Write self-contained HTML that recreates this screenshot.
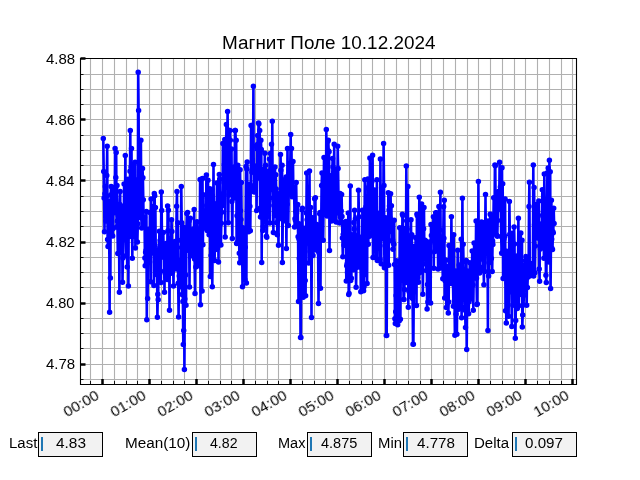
<!DOCTYPE html>
<html lang="ru"><head><meta charset="utf-8"><title>Магнит Поле 10.12.2024</title>
<style>
html,body{margin:0;padding:0;background:#fff;}
body{width:640px;height:480px;position:relative;overflow:hidden;font-family:"Liberation Sans",sans-serif;color:#000;}
.plot{position:absolute;left:0;top:0;}
.t{position:absolute;white-space:nowrap;line-height:1;transform-origin:0 0;will-change:transform;}
.yl{text-align:right;}
.box{position:absolute;top:432px;width:63px;height:23px;background:#f2f2f2;border:1.1px solid #000;box-sizing:content-box;}
.cur{position:absolute;top:437.2px;width:2.1px;height:13.4px;background:#1f77b4;}
</style></head><body>
<svg class="plot" width="640" height="480" viewBox="0 0 640 480">
<path d="M90.5 58V384M102.5 58V384M114.5 58V384M126.5 58V384M137.5 58V384M149.5 58V384M161.5 58V384M173.5 58V384M184.5 58V384M196.5 58V384M208.5 58V384M220.5 58V384M231.5 58V384M243.5 58V384M255.5 58V384M267.5 58V384M278.5 58V384M290.5 58V384M302.5 58V384M314.5 58V384M325.5 58V384M337.5 58V384M349.5 58V384M361.5 58V384M372.5 58V384M384.5 58V384M396.5 58V384M408.5 58V384M420.5 58V384M431.5 58V384M443.5 58V384M455.5 58V384M467.5 58V384M478.5 58V384M490.5 58V384M502.5 58V384M514.5 58V384M525.5 58V384M537.5 58V384M549.5 58V384M561.5 58V384M572.5 58V384M80 379.5H576M80 364.5H576M80 348.5H576M80 333.5H576M80 318.5H576M80 303.5H576M80 287.5H576M80 272.5H576M80 257.5H576M80 242.5H576M80 226.5H576M80 211.5H576M80 196.5H576M80 180.5H576M80 165.5H576M80 150.5H576M80 135.5H576M80 119.5H576M80 104.5H576M80 89.5H576M80 74.5H576" stroke="#b0b0b0" stroke-width="1.11" fill="none"/>
<g fill="none" stroke="#00f" stroke-linejoin="round" stroke-linecap="round">
<polyline points="103.3,138.4 103.7,171.6 104.1,198.1 104.5,231.7 104.9,193.8 105.3,186.5 105.7,201 106,221 106.4,196.5 106.8,175.4 107.2,146.2 107.6,239.5 108,246.6 108.4,201.3 108.8,211.4 109.2,221.7 109.6,312.2 110,205.5 110.4,278.1 110.7,195 111.1,186.4 111.5,222.6 111.9,203 112.3,235.4 112.7,236.1 113.1,228.5 113.5,187.4 113.9,212.7 114.3,205.6 114.7,208.7 115.1,148.6 115.5,187.5 115.8,177.4 116.2,152.5 116.6,226.9 117,185.5 117.4,221 117.8,253.6 118.2,215.2 118.6,220.2 119,224 119.4,292.3 119.8,204.4 120.2,191.6 120.5,242.8 120.9,205.8 121.3,252.7 121.7,241.1 122.1,223.2 122.5,282.2 122.9,258 123.3,206.7 123.7,232.3 124.1,184.1 124.5,222.8 124.9,238.9 125.3,155.6 125.6,238.9 126,255.7 126.4,214.9 126.8,228.5 127.2,266.9 127.6,213.5 128,179.2 128.4,286.1 128.8,200 129.2,232.9 129.6,236.4 130,171.2 130.3,130.5 130.7,224 131.1,166.9 131.5,148.4 131.9,207.5 132.3,258.3 132.7,222.7 133.1,201.2 133.5,164.2 133.9,200.3 134.3,236.6 134.7,197.8 135.1,162.2 135.4,248.1 135.8,201.4 136.2,199.2 136.6,180.1 137,199.6 137.4,241.9 137.8,223.7 138.2,72.2 138.6,110.5 139,198.6 139.4,178.4 139.8,215.3 140.1,214.5 140.5,217.8 140.9,140.3 141.3,215.4 141.7,228.1 142.1,200.7 142.5,168.4 142.9,177.8 143.3,199.7 143.7,227.1 144.1,217.5 144.5,217.3 144.9,257.9 145.2,265.7 145.6,252.3 146,250.4 146.4,211.4 146.8,319.7 147.2,235.2 147.6,298.6 148,247.4 148.4,229.5 148.8,249.7 149.2,233 149.6,262 149.9,212.5 150.3,249.1 150.7,281.7 151.1,198.9 151.5,213.5 151.9,224.8 152.3,250.9 152.7,213.5 153.1,253.1 153.5,206.5 153.9,285.6 154.3,193.6 154.7,195.8 155,245.1 155.4,207.6 155.8,264.7 156.2,274.6 156.6,259.6 157,258.7 157.4,317.3 157.8,294.2 158.2,299.7 158.6,251.4 159,255.7 159.4,231.2 159.7,248.2 160.1,240.4 160.5,270.9 160.9,282.5 161.3,192 161.7,210.6 162.1,249.3 162.5,252.8 162.9,250.3 163.3,232.5 163.7,253 164.1,257.6 164.5,292.3 164.8,245.4 165.2,273.3 165.6,250.2 166,243.6 166.4,246.7 166.8,268.1 167.2,279.4 167.6,205.9 168,230.8 168.4,210.2 168.8,257.5 169.2,250 169.5,310.3 169.9,238.8 170.3,273.4 170.7,244.9 171.1,249.8 171.5,219.7 171.9,231.6 172.3,272.2 172.7,246.7 173.1,256.9 173.5,286.1 173.9,245.8 174.3,244 174.6,257.3 175,241.4 175.4,242.8 175.8,246.3 176.2,269 176.6,206.2 177,191.6 177.4,247.6 177.8,222.8 178.2,283.3 178.6,316.9 179,260.6 179.3,276.1 179.7,279.8 180.1,280.9 180.5,284 180.9,240.3 181.3,186.4 181.7,222.8 182.1,294.6 182.5,287.5 182.9,301.5 183.3,344.4 183.7,330.6 184.1,227.5 184.4,369.5 184.8,299.1 185.2,247.7 185.6,275 186,305.2 186.4,230.8 186.8,213.5 187.2,250.3 187.6,212.5 188,245.3 188.4,249.9 188.8,234.2 189.1,220.9 189.5,286.9 189.9,231.6 190.3,218.3 190.7,255.2 191.1,248.1 191.5,255.7 191.9,230.3 192.3,234 192.7,229.5 193.1,231.1 193.5,253.4 193.9,235.6 194.2,209.4 194.6,258.9 195,293.4 195.4,227.2 195.8,267.1 196.2,251.1 196.6,251.1 197,221.8 197.4,235.7 197.8,262 198.2,243.4 198.6,249 198.9,229.9 199.3,265.7 199.7,237.3 200.1,179.6 200.5,304.7 200.9,179.6 201.3,179.6 201.7,197.7 202.1,290.9 202.5,178.6 202.9,244.7 203.3,194.8 203.7,228 204,215.8 204.4,212.8 204.8,210.9 205.2,212.9 205.6,225 206,222.3 206.4,175 206.8,205.4 207.2,230.6 207.6,214.4 208,180.2 208.4,206.9 208.7,227.6 209.1,234.7 209.5,206 209.9,188.8 210.3,276.4 210.7,230.5 211.1,255.4 211.5,248.5 211.9,189.8 212.3,286.7 212.7,236.3 213.1,227.9 213.5,164.5 213.8,214.4 214.2,219.2 214.6,260.5 215,239.1 215.4,220.5 215.8,249.6 216.2,203.7 216.6,209 217,183.1 217.4,248.3 217.8,242.6 218.2,228.4 218.5,261.9 218.9,215 219.3,174.4 219.7,179.1 220.1,208.4 220.5,212.5 220.9,245 221.3,223.3 221.7,212.2 222.1,199.9 222.5,198.4 222.9,143.4 223.3,205.2 223.6,193.2 224,182.6 224.4,164.2 224.8,139.5 225.2,236.9 225.6,177.2 226,176 226.4,124.5 226.8,182.9 227.2,149.1 227.6,111.5 228,163.7 228.3,222.8 228.7,173.5 229.1,194.9 229.5,130.6 229.9,130.5 230.3,140.3 230.7,188.2 231.1,186.1 231.5,148.9 231.9,201.5 232.3,238.4 232.7,192.5 233.1,189.1 233.4,170.5 233.8,198.3 234.2,167 234.6,166.9 235,130.5 235.4,130.5 235.8,140.5 236.2,140.3 236.6,243.4 237,215.7 237.4,242.4 237.8,165.3 238.1,196 238.5,192.3 238.9,211.5 239.3,253.2 239.7,262.7 240.1,169.7 240.5,210.7 240.9,219.4 241.3,182.5 241.7,230 242.1,239.6 242.5,286.7 242.9,227.8 243.2,231.2 243.6,237.7 244,231.2 244.4,239 244.8,279.6 245.2,247.2 245.6,228.7 246,166.6 246.4,283.1 246.8,168.9 247.2,161.9 247.6,210.1 247.9,211.3 248.3,198 248.7,231.7 249.1,187.6 249.5,184.4 249.9,206.3 250.3,230.7 250.7,190.2 251.1,125.5 251.5,125.5 251.9,172.3 252.3,170.4 252.7,146.1 253,171.6 253.4,86.2 253.8,188.7 254.2,192.1 254.6,185 255,166.7 255.4,181.8 255.8,171.6 256.2,165.9 256.6,210.6 257,148.8 257.4,144.5 257.7,135.6 258.1,178.1 258.5,123.1 258.9,123.8 259.3,156 259.7,130.6 260.1,208.2 260.5,217 260.9,140.3 261.3,149.4 261.7,262.5 262.1,176.4 262.5,179.9 262.8,230.5 263.2,226.5 263.6,169.2 264,221.5 264.4,213.7 264.8,153.3 265.2,197 265.6,165.3 266,181.1 266.4,236.2 266.8,237.2 267.2,216.4 267.5,187.4 267.9,195.8 268.3,171.2 268.7,182.6 269.1,205.4 269.5,159.1 269.9,223.1 270.3,153.6 270.7,175.6 271.1,181.8 271.5,144.2 271.9,189.5 272.3,121.2 272.6,185.7 273,198.1 273.4,232.5 273.8,184.2 274.2,201 274.6,215.6 275,166.9 275.4,201.6 275.8,174.7 276.2,189.1 276.6,222.8 277,202.4 277.3,234.8 277.7,199.2 278.1,215.5 278.5,245.3 278.9,193.8 279.3,217.1 279.7,205.9 280.1,218.6 280.5,154.4 280.9,170.3 281.3,204 281.7,217.1 282.1,165.3 282.4,262.5 282.8,213.7 283.2,183.8 283.6,221 284,194.9 284.4,179.8 284.8,208.4 285.2,213.7 285.6,184.9 286,177 286.4,248.4 286.8,187.2 287.1,204.2 287.5,148.6 287.9,192 288.3,225.5 288.7,193.1 289.1,193.8 289.5,169.6 289.9,173.3 290.3,163.1 290.7,134.5 291.1,191.1 291.5,148.6 291.9,194.1 292.2,196.7 292.6,195.3 293,161.4 293.4,195.8 293.8,187.4 294.2,192.3 294.6,227 295,218.8 295.4,220.2 295.8,211.2 296.2,182.5 296.6,213.1 296.9,222.6 297.3,205.4 297.7,204.4 298.1,236.7 298.5,301.4 298.9,238.8 299.3,258.4 299.7,224 300.1,228.3 300.5,337.5 300.9,337.5 301.3,246.1 301.7,233.3 302,209.8 302.4,208.3 302.8,250.8 303.2,297.2 303.6,250.5 304,228.3 304.4,248.9 304.8,251.5 305.2,280.5 305.6,295.7 306,237.1 306.4,213.1 306.7,173.1 307.1,219.8 307.5,214.8 307.9,238.8 308.3,207.9 308.7,263 309.1,243.4 309.5,171.1 309.9,239.7 310.3,217.6 310.7,207.6 311.1,232.1 311.5,317.5 311.8,250.6 312.2,244.8 312.6,217.8 313,255.6 313.4,218.1 313.8,235.7 314.2,246.8 314.6,198.8 315,249.7 315.4,197.8 315.8,246.9 316.2,239.3 316.5,239.9 316.9,224.4 317.3,243.6 317.7,239.6 318.1,251 318.5,303.4 318.9,252.5 319.3,253.2 319.7,213.7 320.1,212.5 320.5,288.3 320.9,212.9 321.3,213.9 321.6,185.6 322,173.1 322.4,215 322.8,212.9 323.2,240.3 323.6,203.8 324,157.5 324.4,201.5 324.8,179.2 325.2,214 325.6,202.1 326,201.1 326.3,129.4 326.7,165.1 327.1,216 327.5,175.9 327.9,141.3 328.3,140.3 328.7,151 329.1,151.7 329.5,250.5 329.9,200.1 330.3,175.7 330.7,184.7 331.1,214.1 331.4,221 331.8,183.3 332.2,177.7 332.6,158.5 333,166.9 333.4,219.7 333.8,189.8 334.2,144.2 334.6,200.4 335,171 335.4,192.6 335.8,202.9 336.1,222 336.5,209.8 336.9,201.8 337.3,206 337.7,146.2 338.1,168.4 338.5,196.2 338.9,210.4 339.3,213.4 339.7,223.1 340.1,193.4 340.5,217 340.9,215.1 341.2,210.9 341.6,194.4 342,216.4 342.4,237.9 342.8,256.7 343.2,234.6 343.6,238.6 344,245.3 344.4,222.6 344.8,235.9 345.2,243.3 345.6,245.2 345.9,221.6 346.3,281.1 346.7,265.8 347.1,264.1 347.5,272.4 347.9,249.9 348.3,213 348.7,294.4 349.1,293.4 349.5,254.6 349.9,252.8 350.3,186.1 350.7,280.6 351,255.8 351.4,278.3 351.8,234.8 352.2,245.3 352.6,245.6 353,263.8 353.4,269.7 353.8,222.6 354.2,229 354.6,210.2 355,236.9 355.4,219.1 355.7,265.2 356.1,287.3 356.5,259.1 356.9,240.9 357.3,267.2 357.7,235.5 358.1,264.4 358.5,190.3 358.9,216.7 359.3,243.8 359.7,237.3 360.1,262.9 360.5,257.3 360.8,291.7 361.2,250.6 361.6,244 362,268.4 362.4,210.2 362.8,241.2 363.2,273.9 363.6,290.7 364,286.7 364.4,252 364.8,179.7 365.2,274.6 365.5,232.4 365.9,207 366.3,232.1 366.7,243.1 367.1,283.6 367.5,187.9 367.9,179.1 368.3,244.2 368.7,213.3 369.1,225.9 369.5,236.2 369.9,158 370.3,213.1 370.6,227.2 371,187.3 371.4,196.9 371.8,181.8 372.2,232.6 372.6,155.2 373,257.5 373.4,195.7 373.8,199.7 374.2,231.4 374.6,189.9 375,196.3 375.3,209.3 375.7,257.3 376.1,242.6 376.5,220 376.9,179.8 377.3,260.4 377.7,220.6 378.1,214 378.5,245.7 378.9,234.3 379.3,236.7 379.7,212.9 380.1,259.4 380.4,159.1 380.8,239 381.2,263.8 381.6,187.7 382,233.1 382.4,221.8 382.8,232.6 383.2,238.4 383.6,143.4 384,185.6 384.4,267.8 384.8,234 385.1,245.8 385.5,217.7 385.9,221.8 386.3,335.5 386.7,335.5 387.1,235.2 387.5,249.1 387.9,264.3 388.3,192.7 388.7,265.3 389.1,210.1 389.5,205.9 389.9,217.9 390.2,229.3 390.6,193.8 391,231.5 391.4,205.7 391.8,241 392.2,240.6 392.6,240.1 393,249.3 393.4,243.2 393.8,244.3 394.2,220.3 394.6,264.4 394.9,318.7 395.3,323.5 395.7,311.8 396.1,295.6 396.5,260.7 396.9,305.2 397.3,324.5 397.7,324.7 398.1,267.3 398.5,275.4 398.9,320.3 399.3,320.8 399.7,227.7 400,263.1 400.4,319.3 400.8,266.2 401.2,259.6 401.6,272.4 402,276.7 402.4,214.2 402.8,215.6 403.2,275.5 403.6,299.4 404,299.5 404.4,289.4 404.7,246.9 405.1,258.1 405.5,228.6 405.9,282.6 406.3,166.1 406.7,220.7 407.1,229.1 407.5,268.3 407.9,186.4 408.3,307.2 408.7,236 409.1,291.8 409.5,271 409.8,259.6 410.2,296.4 410.6,255.5 411,219.8 411.4,264.2 411.8,234.7 412.2,257.5 412.6,298.6 413,344.3 413.4,344.2 413.8,290.1 414.2,246.6 414.5,256.8 414.9,255.2 415.3,250.1 415.7,237.8 416.1,261.7 416.5,305.6 416.9,214.2 417.3,215.6 417.7,277.5 418.1,274 418.5,282.3 418.9,262.9 419.3,197.3 419.6,272.7 420,270.4 420.4,266.3 420.8,222.9 421.2,249.6 421.6,204.1 422,261.7 422.4,224.8 422.8,294.3 423.2,264.1 423.6,228.8 424,207.5 424.3,246.8 424.7,254.9 425.1,240.2 425.5,258.7 425.9,242.4 426.3,270.4 426.7,241.5 427.1,309.1 427.5,284.5 427.9,302.1 428.3,249.7 428.7,253.6 429.1,246.8 429.4,277.1 429.8,243.3 430.2,252.5 430.6,303.1 431,224.5 431.4,235.4 431.8,240.4 432.2,225.5 432.6,229.2 433,240.4 433.4,216.7 433.8,268.3 434.1,227.8 434.5,234.6 434.9,251.6 435.3,250.3 435.7,212.8 436.1,231.5 436.5,212.7 436.9,233.9 437.3,224.5 437.7,228.5 438.1,269.1 438.5,245.7 438.9,206.4 439.2,236 439.6,251.3 440,230 440.4,192.3 440.8,268.1 441.2,260.3 441.6,239.5 442,246.2 442.4,256.6 442.8,278.8 443.2,240.4 443.6,206.7 443.9,238.2 444.3,200.2 444.7,298.1 445.1,280.8 445.5,259.9 445.9,269.6 446.3,307.5 446.7,267.4 447.1,297.1 447.5,273.8 447.9,266.5 448.3,313 448.7,302 449,245.6 449.4,260.5 449.8,275.2 450.2,283.3 450.6,256.4 451,279 451.4,216.7 451.8,283.4 452.2,282 452.6,256.7 453,281.7 453.4,306.2 453.7,234.7 454.1,276.9 454.5,300.5 454.9,335.3 455.3,294.5 455.7,271.1 456.1,314.1 456.5,334.3 456.9,334.3 457.3,293 457.7,250.3 458.1,296.8 458.5,290.6 458.8,309.3 459.2,265.1 459.6,299.2 460,284.7 460.4,307 460.8,267.6 461.2,239.3 461.6,317.7 462,280.1 462.4,198.3 462.8,272.5 463.2,244.2 463.5,261.5 463.9,298.4 464.3,299.6 464.7,309.9 465.1,307 465.5,327.6 465.9,282.6 466.3,260.5 466.7,349.5 467.1,301.9 467.5,270.9 467.9,300.7 468.3,280.3 468.6,313.8 469,301.7 469.4,282.7 469.8,262.8 470.2,275.1 470.6,293.3 471,298.9 471.4,276.4 471.8,286.1 472.2,251.1 472.6,272.6 473,284.9 473.3,310.3 473.7,273.1 474.1,243 474.5,277.7 474.9,278 475.3,265.2 475.7,266.4 476.1,221 476.5,278.2 476.9,304.4 477.3,304.1 477.7,255.9 478.1,272 478.4,181.4 478.8,256.6 479.2,244.5 479.6,273 480,270.4 480.4,226 480.8,233.5 481.2,254.2 481.6,222 482,257.5 482.4,247.6 482.8,258.1 483.1,267.1 483.5,259.7 483.9,284.8 484.3,223 484.7,271.4 485.1,249.2 485.5,194.4 485.9,246.7 486.3,236.6 486.7,252.3 487.1,236.9 487.5,235.3 487.9,330.5 488.2,221 488.6,276.1 489,262.7 489.4,245.8 489.8,258.8 490.2,214.2 490.6,214.2 491,215.6 491.4,258.4 491.8,240.4 492.2,271.4 492.6,241 492.9,244.4 493.3,231.6 493.7,197.8 494.1,229.2 494.5,220.9 494.9,165 495.3,165.8 495.7,220.8 496.1,213.6 496.5,235 496.9,210.7 497.3,236.2 497.7,220.5 498,191.7 498.4,191.4 498.8,208.5 499.2,203.7 499.6,162.2 500,206.5 500.4,186.9 500.8,209.2 501.2,236.5 501.6,253.3 502,167.8 502.4,252.6 502.7,183.8 503.1,278.4 503.5,249.3 503.9,239 504.3,235.5 504.7,236.5 505.1,199.1 505.5,310.7 505.9,259.9 506.3,323.1 506.7,251.3 507.1,282.9 507.5,253.2 507.8,259.6 508.2,278.9 508.6,316.2 509,273.5 509.4,201.4 509.8,234.3 510.2,279.1 510.6,259 511,291.8 511.4,280.7 511.8,326.5 512.2,233.3 512.5,269.6 512.9,305.3 513.3,275.3 513.7,260.3 514.1,226.9 514.5,244.1 514.9,282 515.3,338.3 515.7,320.4 516.1,256.2 516.5,256.2 516.9,268.9 517.3,308.5 517.6,257 518,266.1 518.4,218.3 518.8,305.8 519.2,278.9 519.6,259.4 520,248.5 520.4,265.3 520.8,233.1 521.2,294.5 521.6,271.4 522,240.2 522.3,327 522.7,315 523.1,274.5 523.5,304.9 523.9,295.2 524.3,273.6 524.7,264.7 525.1,270.5 525.5,260.4 525.9,256.6 526.3,257.6 526.7,305.2 527.1,269.1 527.4,287.5 527.8,276.3 528.2,277.1 528.6,274.5 529,206.4 529.4,182.2 529.8,274.4 530.2,271.5 530.6,263.6 531,275.5 531.4,269.7 531.8,270.1 532.1,275.6 532.5,273.7 532.9,269.3 533.3,165 533.7,276.1 534.1,187.6 534.5,224.8 534.9,272.7 535.3,246 535.7,226.6 536.1,213.1 536.5,204.6 536.9,213.3 537.2,207.7 537.6,238.1 538,216.6 538.4,215.2 538.8,200.9 539.2,269.1 539.6,281.2 540,224.1 540.4,248.9 540.8,238.4 541.2,240 541.6,237.3 541.9,231.3 542.3,189.7 542.7,225 543.1,247.6 543.5,211.5 543.9,258.3 544.3,174.1 544.7,217.3 545.1,220.8 545.5,206.6 545.9,275.3 546.3,282.5 546.7,251.1 547,208 547.4,172.7 547.8,199.1 548.2,168.1 548.6,233.2 549,262 549.4,160.3 549.8,210 550.2,171.7 550.6,288.4 551,233.7 551.4,200.2 551.7,239.3 552.1,248.5 552.5,249.5 552.9,231.8 553.3,232.7 553.7,208.3 554.1,223.6" stroke-width="2.6"/>
<path d="M103.3 138.4h0M103.7 171.6h0M104.1 198.1h0M104.5 231.7h0M104.9 193.8h0M105.3 186.5h0M105.7 201h0M106 221h0M106.4 196.5h0M106.8 175.4h0M107.2 146.2h0M107.6 239.5h0M108 246.6h0M108.4 201.3h0M108.8 211.4h0M109.2 221.7h0M109.6 312.2h0M110 205.5h0M110.4 278.1h0M110.7 195h0M111.1 186.4h0M111.5 222.6h0M111.9 203h0M112.3 235.4h0M112.7 236.1h0M113.1 228.5h0M113.5 187.4h0M113.9 212.7h0M114.3 205.6h0M114.7 208.7h0M115.1 148.6h0M115.5 187.5h0M115.8 177.4h0M116.2 152.5h0M116.6 226.9h0M117 185.5h0M117.4 221h0M117.8 253.6h0M118.2 215.2h0M118.6 220.2h0M119 224h0M119.4 292.3h0M119.8 204.4h0M120.2 191.6h0M120.5 242.8h0M120.9 205.8h0M121.3 252.7h0M121.7 241.1h0M122.1 223.2h0M122.5 282.2h0M122.9 258h0M123.3 206.7h0M123.7 232.3h0M124.1 184.1h0M124.5 222.8h0M124.9 238.9h0M125.3 155.6h0M125.6 238.9h0M126 255.7h0M126.4 214.9h0M126.8 228.5h0M127.2 266.9h0M127.6 213.5h0M128 179.2h0M128.4 286.1h0M128.8 200h0M129.2 232.9h0M129.6 236.4h0M130 171.2h0M130.3 130.5h0M130.7 224h0M131.1 166.9h0M131.5 148.4h0M131.9 207.5h0M132.3 258.3h0M132.7 222.7h0M133.1 201.2h0M133.5 164.2h0M133.9 200.3h0M134.3 236.6h0M134.7 197.8h0M135.1 162.2h0M135.4 248.1h0M135.8 201.4h0M136.2 199.2h0M136.6 180.1h0M137 199.6h0M137.4 241.9h0M137.8 223.7h0M138.2 72.2h0M138.6 110.5h0M139 198.6h0M139.4 178.4h0M139.8 215.3h0M140.1 214.5h0M140.5 217.8h0M140.9 140.3h0M141.3 215.4h0M141.7 228.1h0M142.1 200.7h0M142.5 168.4h0M142.9 177.8h0M143.3 199.7h0M143.7 227.1h0M144.1 217.5h0M144.5 217.3h0M144.9 257.9h0M145.2 265.7h0M145.6 252.3h0M146 250.4h0M146.4 211.4h0M146.8 319.7h0M147.2 235.2h0M147.6 298.6h0M148 247.4h0M148.4 229.5h0M148.8 249.7h0M149.2 233h0M149.6 262h0M149.9 212.5h0M150.3 249.1h0M150.7 281.7h0M151.1 198.9h0M151.5 213.5h0M151.9 224.8h0M152.3 250.9h0M152.7 213.5h0M153.1 253.1h0M153.5 206.5h0M153.9 285.6h0M154.3 193.6h0M154.7 195.8h0M155 245.1h0M155.4 207.6h0M155.8 264.7h0M156.2 274.6h0M156.6 259.6h0M157 258.7h0M157.4 317.3h0M157.8 294.2h0M158.2 299.7h0M158.6 251.4h0M159 255.7h0M159.4 231.2h0M159.7 248.2h0M160.1 240.4h0M160.5 270.9h0M160.9 282.5h0M161.3 192h0M161.7 210.6h0M162.1 249.3h0M162.5 252.8h0M162.9 250.3h0M163.3 232.5h0M163.7 253h0M164.1 257.6h0M164.5 292.3h0M164.8 245.4h0M165.2 273.3h0M165.6 250.2h0M166 243.6h0M166.4 246.7h0M166.8 268.1h0M167.2 279.4h0M167.6 205.9h0M168 230.8h0M168.4 210.2h0M168.8 257.5h0M169.2 250h0M169.5 310.3h0M169.9 238.8h0M170.3 273.4h0M170.7 244.9h0M171.1 249.8h0M171.5 219.7h0M171.9 231.6h0M172.3 272.2h0M172.7 246.7h0M173.1 256.9h0M173.5 286.1h0M173.9 245.8h0M174.3 244h0M174.6 257.3h0M175 241.4h0M175.4 242.8h0M175.8 246.3h0M176.2 269h0M176.6 206.2h0M177 191.6h0M177.4 247.6h0M177.8 222.8h0M178.2 283.3h0M178.6 316.9h0M179 260.6h0M179.3 276.1h0M179.7 279.8h0M180.1 280.9h0M180.5 284h0M180.9 240.3h0M181.3 186.4h0M181.7 222.8h0M182.1 294.6h0M182.5 287.5h0M182.9 301.5h0M183.3 344.4h0M183.7 330.6h0M184.1 227.5h0M184.4 369.5h0M184.8 299.1h0M185.2 247.7h0M185.6 275h0M186 305.2h0M186.4 230.8h0M186.8 213.5h0M187.2 250.3h0M187.6 212.5h0M188 245.3h0M188.4 249.9h0M188.8 234.2h0M189.1 220.9h0M189.5 286.9h0M189.9 231.6h0M190.3 218.3h0M190.7 255.2h0M191.1 248.1h0M191.5 255.7h0M191.9 230.3h0M192.3 234h0M192.7 229.5h0M193.1 231.1h0M193.5 253.4h0M193.9 235.6h0M194.2 209.4h0M194.6 258.9h0M195 293.4h0M195.4 227.2h0M195.8 267.1h0M196.2 251.1h0M196.6 251.1h0M197 221.8h0M197.4 235.7h0M197.8 262h0M198.2 243.4h0M198.6 249h0M198.9 229.9h0M199.3 265.7h0M199.7 237.3h0M200.1 179.6h0M200.5 304.7h0M200.9 179.6h0M201.3 179.6h0M201.7 197.7h0M202.1 290.9h0M202.5 178.6h0M202.9 244.7h0M203.3 194.8h0M203.7 228h0M204 215.8h0M204.4 212.8h0M204.8 210.9h0M205.2 212.9h0M205.6 225h0M206 222.3h0M206.4 175h0M206.8 205.4h0M207.2 230.6h0M207.6 214.4h0M208 180.2h0M208.4 206.9h0M208.7 227.6h0M209.1 234.7h0M209.5 206h0M209.9 188.8h0M210.3 276.4h0M210.7 230.5h0M211.1 255.4h0M211.5 248.5h0M211.9 189.8h0M212.3 286.7h0M212.7 236.3h0M213.1 227.9h0M213.5 164.5h0M213.8 214.4h0M214.2 219.2h0M214.6 260.5h0M215 239.1h0M215.4 220.5h0M215.8 249.6h0M216.2 203.7h0M216.6 209h0M217 183.1h0M217.4 248.3h0M217.8 242.6h0M218.2 228.4h0M218.5 261.9h0M218.9 215h0M219.3 174.4h0M219.7 179.1h0M220.1 208.4h0M220.5 212.5h0M220.9 245h0M221.3 223.3h0M221.7 212.2h0M222.1 199.9h0M222.5 198.4h0M222.9 143.4h0M223.3 205.2h0M223.6 193.2h0M224 182.6h0M224.4 164.2h0M224.8 139.5h0M225.2 236.9h0M225.6 177.2h0M226 176h0M226.4 124.5h0M226.8 182.9h0M227.2 149.1h0M227.6 111.5h0M228 163.7h0M228.3 222.8h0M228.7 173.5h0M229.1 194.9h0M229.5 130.6h0M229.9 130.5h0M230.3 140.3h0M230.7 188.2h0M231.1 186.1h0M231.5 148.9h0M231.9 201.5h0M232.3 238.4h0M232.7 192.5h0M233.1 189.1h0M233.4 170.5h0M233.8 198.3h0M234.2 167h0M234.6 166.9h0M235 130.5h0M235.4 130.5h0M235.8 140.5h0M236.2 140.3h0M236.6 243.4h0M237 215.7h0M237.4 242.4h0M237.8 165.3h0M238.1 196h0M238.5 192.3h0M238.9 211.5h0M239.3 253.2h0M239.7 262.7h0M240.1 169.7h0M240.5 210.7h0M240.9 219.4h0M241.3 182.5h0M241.7 230h0M242.1 239.6h0M242.5 286.7h0M242.9 227.8h0M243.2 231.2h0M243.6 237.7h0M244 231.2h0M244.4 239h0M244.8 279.6h0M245.2 247.2h0M245.6 228.7h0M246 166.6h0M246.4 283.1h0M246.8 168.9h0M247.2 161.9h0M247.6 210.1h0M247.9 211.3h0M248.3 198h0M248.7 231.7h0M249.1 187.6h0M249.5 184.4h0M249.9 206.3h0M250.3 230.7h0M250.7 190.2h0M251.1 125.5h0M251.5 125.5h0M251.9 172.3h0M252.3 170.4h0M252.7 146.1h0M253 171.6h0M253.4 86.2h0M253.8 188.7h0M254.2 192.1h0M254.6 185h0M255 166.7h0M255.4 181.8h0M255.8 171.6h0M256.2 165.9h0M256.6 210.6h0M257 148.8h0M257.4 144.5h0M257.7 135.6h0M258.1 178.1h0M258.5 123.1h0M258.9 123.8h0M259.3 156h0M259.7 130.6h0M260.1 208.2h0M260.5 217h0M260.9 140.3h0M261.3 149.4h0M261.7 262.5h0M262.1 176.4h0M262.5 179.9h0M262.8 230.5h0M263.2 226.5h0M263.6 169.2h0M264 221.5h0M264.4 213.7h0M264.8 153.3h0M265.2 197h0M265.6 165.3h0M266 181.1h0M266.4 236.2h0M266.8 237.2h0M267.2 216.4h0M267.5 187.4h0M267.9 195.8h0M268.3 171.2h0M268.7 182.6h0M269.1 205.4h0M269.5 159.1h0M269.9 223.1h0M270.3 153.6h0M270.7 175.6h0M271.1 181.8h0M271.5 144.2h0M271.9 189.5h0M272.3 121.2h0M272.6 185.7h0M273 198.1h0M273.4 232.5h0M273.8 184.2h0M274.2 201h0M274.6 215.6h0M275 166.9h0M275.4 201.6h0M275.8 174.7h0M276.2 189.1h0M276.6 222.8h0M277 202.4h0M277.3 234.8h0M277.7 199.2h0M278.1 215.5h0M278.5 245.3h0M278.9 193.8h0M279.3 217.1h0M279.7 205.9h0M280.1 218.6h0M280.5 154.4h0M280.9 170.3h0M281.3 204h0M281.7 217.1h0M282.1 165.3h0M282.4 262.5h0M282.8 213.7h0M283.2 183.8h0M283.6 221h0M284 194.9h0M284.4 179.8h0M284.8 208.4h0M285.2 213.7h0M285.6 184.9h0M286 177h0M286.4 248.4h0M286.8 187.2h0M287.1 204.2h0M287.5 148.6h0M287.9 192h0M288.3 225.5h0M288.7 193.1h0M289.1 193.8h0M289.5 169.6h0M289.9 173.3h0M290.3 163.1h0M290.7 134.5h0M291.1 191.1h0M291.5 148.6h0M291.9 194.1h0M292.2 196.7h0M292.6 195.3h0M293 161.4h0M293.4 195.8h0M293.8 187.4h0M294.2 192.3h0M294.6 227h0M295 218.8h0M295.4 220.2h0M295.8 211.2h0M296.2 182.5h0M296.6 213.1h0M296.9 222.6h0M297.3 205.4h0M297.7 204.4h0M298.1 236.7h0M298.5 301.4h0M298.9 238.8h0M299.3 258.4h0M299.7 224h0M300.1 228.3h0M300.5 337.5h0M300.9 337.5h0M301.3 246.1h0M301.7 233.3h0M302 209.8h0M302.4 208.3h0M302.8 250.8h0M303.2 297.2h0M303.6 250.5h0M304 228.3h0M304.4 248.9h0M304.8 251.5h0M305.2 280.5h0M305.6 295.7h0M306 237.1h0M306.4 213.1h0M306.7 173.1h0M307.1 219.8h0M307.5 214.8h0M307.9 238.8h0M308.3 207.9h0M308.7 263h0M309.1 243.4h0M309.5 171.1h0M309.9 239.7h0M310.3 217.6h0M310.7 207.6h0M311.1 232.1h0M311.5 317.5h0M311.8 250.6h0M312.2 244.8h0M312.6 217.8h0M313 255.6h0M313.4 218.1h0M313.8 235.7h0M314.2 246.8h0M314.6 198.8h0M315 249.7h0M315.4 197.8h0M315.8 246.9h0M316.2 239.3h0M316.5 239.9h0M316.9 224.4h0M317.3 243.6h0M317.7 239.6h0M318.1 251h0M318.5 303.4h0M318.9 252.5h0M319.3 253.2h0M319.7 213.7h0M320.1 212.5h0M320.5 288.3h0M320.9 212.9h0M321.3 213.9h0M321.6 185.6h0M322 173.1h0M322.4 215h0M322.8 212.9h0M323.2 240.3h0M323.6 203.8h0M324 157.5h0M324.4 201.5h0M324.8 179.2h0M325.2 214h0M325.6 202.1h0M326 201.1h0M326.3 129.4h0M326.7 165.1h0M327.1 216h0M327.5 175.9h0M327.9 141.3h0M328.3 140.3h0M328.7 151h0M329.1 151.7h0M329.5 250.5h0M329.9 200.1h0M330.3 175.7h0M330.7 184.7h0M331.1 214.1h0M331.4 221h0M331.8 183.3h0M332.2 177.7h0M332.6 158.5h0M333 166.9h0M333.4 219.7h0M333.8 189.8h0M334.2 144.2h0M334.6 200.4h0M335 171h0M335.4 192.6h0M335.8 202.9h0M336.1 222h0M336.5 209.8h0M336.9 201.8h0M337.3 206h0M337.7 146.2h0M338.1 168.4h0M338.5 196.2h0M338.9 210.4h0M339.3 213.4h0M339.7 223.1h0M340.1 193.4h0M340.5 217h0M340.9 215.1h0M341.2 210.9h0M341.6 194.4h0M342 216.4h0M342.4 237.9h0M342.8 256.7h0M343.2 234.6h0M343.6 238.6h0M344 245.3h0M344.4 222.6h0M344.8 235.9h0M345.2 243.3h0M345.6 245.2h0M345.9 221.6h0M346.3 281.1h0M346.7 265.8h0M347.1 264.1h0M347.5 272.4h0M347.9 249.9h0M348.3 213h0M348.7 294.4h0M349.1 293.4h0M349.5 254.6h0M349.9 252.8h0M350.3 186.1h0M350.7 280.6h0M351 255.8h0M351.4 278.3h0M351.8 234.8h0M352.2 245.3h0M352.6 245.6h0M353 263.8h0M353.4 269.7h0M353.8 222.6h0M354.2 229h0M354.6 210.2h0M355 236.9h0M355.4 219.1h0M355.7 265.2h0M356.1 287.3h0M356.5 259.1h0M356.9 240.9h0M357.3 267.2h0M357.7 235.5h0M358.1 264.4h0M358.5 190.3h0M358.9 216.7h0M359.3 243.8h0M359.7 237.3h0M360.1 262.9h0M360.5 257.3h0M360.8 291.7h0M361.2 250.6h0M361.6 244h0M362 268.4h0M362.4 210.2h0M362.8 241.2h0M363.2 273.9h0M363.6 290.7h0M364 286.7h0M364.4 252h0M364.8 179.7h0M365.2 274.6h0M365.5 232.4h0M365.9 207h0M366.3 232.1h0M366.7 243.1h0M367.1 283.6h0M367.5 187.9h0M367.9 179.1h0M368.3 244.2h0M368.7 213.3h0M369.1 225.9h0M369.5 236.2h0M369.9 158h0M370.3 213.1h0M370.6 227.2h0M371 187.3h0M371.4 196.9h0M371.8 181.8h0M372.2 232.6h0M372.6 155.2h0M373 257.5h0M373.4 195.7h0M373.8 199.7h0M374.2 231.4h0M374.6 189.9h0M375 196.3h0M375.3 209.3h0M375.7 257.3h0M376.1 242.6h0M376.5 220h0M376.9 179.8h0M377.3 260.4h0M377.7 220.6h0M378.1 214h0M378.5 245.7h0M378.9 234.3h0M379.3 236.7h0M379.7 212.9h0M380.1 259.4h0M380.4 159.1h0M380.8 239h0M381.2 263.8h0M381.6 187.7h0M382 233.1h0M382.4 221.8h0M382.8 232.6h0M383.2 238.4h0M383.6 143.4h0M384 185.6h0M384.4 267.8h0M384.8 234h0M385.1 245.8h0M385.5 217.7h0M385.9 221.8h0M386.3 335.5h0M386.7 335.5h0M387.1 235.2h0M387.5 249.1h0M387.9 264.3h0M388.3 192.7h0M388.7 265.3h0M389.1 210.1h0M389.5 205.9h0M389.9 217.9h0M390.2 229.3h0M390.6 193.8h0M391 231.5h0M391.4 205.7h0M391.8 241h0M392.2 240.6h0M392.6 240.1h0M393 249.3h0M393.4 243.2h0M393.8 244.3h0M394.2 220.3h0M394.6 264.4h0M394.9 318.7h0M395.3 323.5h0M395.7 311.8h0M396.1 295.6h0M396.5 260.7h0M396.9 305.2h0M397.3 324.5h0M397.7 324.7h0M398.1 267.3h0M398.5 275.4h0M398.9 320.3h0M399.3 320.8h0M399.7 227.7h0M400 263.1h0M400.4 319.3h0M400.8 266.2h0M401.2 259.6h0M401.6 272.4h0M402 276.7h0M402.4 214.2h0M402.8 215.6h0M403.2 275.5h0M403.6 299.4h0M404 299.5h0M404.4 289.4h0M404.7 246.9h0M405.1 258.1h0M405.5 228.6h0M405.9 282.6h0M406.3 166.1h0M406.7 220.7h0M407.1 229.1h0M407.5 268.3h0M407.9 186.4h0M408.3 307.2h0M408.7 236h0M409.1 291.8h0M409.5 271h0M409.8 259.6h0M410.2 296.4h0M410.6 255.5h0M411 219.8h0M411.4 264.2h0M411.8 234.7h0M412.2 257.5h0M412.6 298.6h0M413 344.3h0M413.4 344.2h0M413.8 290.1h0M414.2 246.6h0M414.5 256.8h0M414.9 255.2h0M415.3 250.1h0M415.7 237.8h0M416.1 261.7h0M416.5 305.6h0M416.9 214.2h0M417.3 215.6h0M417.7 277.5h0M418.1 274h0M418.5 282.3h0M418.9 262.9h0M419.3 197.3h0M419.6 272.7h0M420 270.4h0M420.4 266.3h0M420.8 222.9h0M421.2 249.6h0M421.6 204.1h0M422 261.7h0M422.4 224.8h0M422.8 294.3h0M423.2 264.1h0M423.6 228.8h0M424 207.5h0M424.3 246.8h0M424.7 254.9h0M425.1 240.2h0M425.5 258.7h0M425.9 242.4h0M426.3 270.4h0M426.7 241.5h0M427.1 309.1h0M427.5 284.5h0M427.9 302.1h0M428.3 249.7h0M428.7 253.6h0M429.1 246.8h0M429.4 277.1h0M429.8 243.3h0M430.2 252.5h0M430.6 303.1h0M431 224.5h0M431.4 235.4h0M431.8 240.4h0M432.2 225.5h0M432.6 229.2h0M433 240.4h0M433.4 216.7h0M433.8 268.3h0M434.1 227.8h0M434.5 234.6h0M434.9 251.6h0M435.3 250.3h0M435.7 212.8h0M436.1 231.5h0M436.5 212.7h0M436.9 233.9h0M437.3 224.5h0M437.7 228.5h0M438.1 269.1h0M438.5 245.7h0M438.9 206.4h0M439.2 236h0M439.6 251.3h0M440 230h0M440.4 192.3h0M440.8 268.1h0M441.2 260.3h0M441.6 239.5h0M442 246.2h0M442.4 256.6h0M442.8 278.8h0M443.2 240.4h0M443.6 206.7h0M443.9 238.2h0M444.3 200.2h0M444.7 298.1h0M445.1 280.8h0M445.5 259.9h0M445.9 269.6h0M446.3 307.5h0M446.7 267.4h0M447.1 297.1h0M447.5 273.8h0M447.9 266.5h0M448.3 313h0M448.7 302h0M449 245.6h0M449.4 260.5h0M449.8 275.2h0M450.2 283.3h0M450.6 256.4h0M451 279h0M451.4 216.7h0M451.8 283.4h0M452.2 282h0M452.6 256.7h0M453 281.7h0M453.4 306.2h0M453.7 234.7h0M454.1 276.9h0M454.5 300.5h0M454.9 335.3h0M455.3 294.5h0M455.7 271.1h0M456.1 314.1h0M456.5 334.3h0M456.9 334.3h0M457.3 293h0M457.7 250.3h0M458.1 296.8h0M458.5 290.6h0M458.8 309.3h0M459.2 265.1h0M459.6 299.2h0M460 284.7h0M460.4 307h0M460.8 267.6h0M461.2 239.3h0M461.6 317.7h0M462 280.1h0M462.4 198.3h0M462.8 272.5h0M463.2 244.2h0M463.5 261.5h0M463.9 298.4h0M464.3 299.6h0M464.7 309.9h0M465.1 307h0M465.5 327.6h0M465.9 282.6h0M466.3 260.5h0M466.7 349.5h0M467.1 301.9h0M467.5 270.9h0M467.9 300.7h0M468.3 280.3h0M468.6 313.8h0M469 301.7h0M469.4 282.7h0M469.8 262.8h0M470.2 275.1h0M470.6 293.3h0M471 298.9h0M471.4 276.4h0M471.8 286.1h0M472.2 251.1h0M472.6 272.6h0M473 284.9h0M473.3 310.3h0M473.7 273.1h0M474.1 243h0M474.5 277.7h0M474.9 278h0M475.3 265.2h0M475.7 266.4h0M476.1 221h0M476.5 278.2h0M476.9 304.4h0M477.3 304.1h0M477.7 255.9h0M478.1 272h0M478.4 181.4h0M478.8 256.6h0M479.2 244.5h0M479.6 273h0M480 270.4h0M480.4 226h0M480.8 233.5h0M481.2 254.2h0M481.6 222h0M482 257.5h0M482.4 247.6h0M482.8 258.1h0M483.1 267.1h0M483.5 259.7h0M483.9 284.8h0M484.3 223h0M484.7 271.4h0M485.1 249.2h0M485.5 194.4h0M485.9 246.7h0M486.3 236.6h0M486.7 252.3h0M487.1 236.9h0M487.5 235.3h0M487.9 330.5h0M488.2 221h0M488.6 276.1h0M489 262.7h0M489.4 245.8h0M489.8 258.8h0M490.2 214.2h0M490.6 214.2h0M491 215.6h0M491.4 258.4h0M491.8 240.4h0M492.2 271.4h0M492.6 241h0M492.9 244.4h0M493.3 231.6h0M493.7 197.8h0M494.1 229.2h0M494.5 220.9h0M494.9 165h0M495.3 165.8h0M495.7 220.8h0M496.1 213.6h0M496.5 235h0M496.9 210.7h0M497.3 236.2h0M497.7 220.5h0M498 191.7h0M498.4 191.4h0M498.8 208.5h0M499.2 203.7h0M499.6 162.2h0M500 206.5h0M500.4 186.9h0M500.8 209.2h0M501.2 236.5h0M501.6 253.3h0M502 167.8h0M502.4 252.6h0M502.7 183.8h0M503.1 278.4h0M503.5 249.3h0M503.9 239h0M504.3 235.5h0M504.7 236.5h0M505.1 199.1h0M505.5 310.7h0M505.9 259.9h0M506.3 323.1h0M506.7 251.3h0M507.1 282.9h0M507.5 253.2h0M507.8 259.6h0M508.2 278.9h0M508.6 316.2h0M509 273.5h0M509.4 201.4h0M509.8 234.3h0M510.2 279.1h0M510.6 259h0M511 291.8h0M511.4 280.7h0M511.8 326.5h0M512.2 233.3h0M512.5 269.6h0M512.9 305.3h0M513.3 275.3h0M513.7 260.3h0M514.1 226.9h0M514.5 244.1h0M514.9 282h0M515.3 338.3h0M515.7 320.4h0M516.1 256.2h0M516.5 256.2h0M516.9 268.9h0M517.3 308.5h0M517.6 257h0M518 266.1h0M518.4 218.3h0M518.8 305.8h0M519.2 278.9h0M519.6 259.4h0M520 248.5h0M520.4 265.3h0M520.8 233.1h0M521.2 294.5h0M521.6 271.4h0M522 240.2h0M522.3 327h0M522.7 315h0M523.1 274.5h0M523.5 304.9h0M523.9 295.2h0M524.3 273.6h0M524.7 264.7h0M525.1 270.5h0M525.5 260.4h0M525.9 256.6h0M526.3 257.6h0M526.7 305.2h0M527.1 269.1h0M527.4 287.5h0M527.8 276.3h0M528.2 277.1h0M528.6 274.5h0M529 206.4h0M529.4 182.2h0M529.8 274.4h0M530.2 271.5h0M530.6 263.6h0M531 275.5h0M531.4 269.7h0M531.8 270.1h0M532.1 275.6h0M532.5 273.7h0M532.9 269.3h0M533.3 165h0M533.7 276.1h0M534.1 187.6h0M534.5 224.8h0M534.9 272.7h0M535.3 246h0M535.7 226.6h0M536.1 213.1h0M536.5 204.6h0M536.9 213.3h0M537.2 207.7h0M537.6 238.1h0M538 216.6h0M538.4 215.2h0M538.8 200.9h0M539.2 269.1h0M539.6 281.2h0M540 224.1h0M540.4 248.9h0M540.8 238.4h0M541.2 240h0M541.6 237.3h0M541.9 231.3h0M542.3 189.7h0M542.7 225h0M543.1 247.6h0M543.5 211.5h0M543.9 258.3h0M544.3 174.1h0M544.7 217.3h0M545.1 220.8h0M545.5 206.6h0M545.9 275.3h0M546.3 282.5h0M546.7 251.1h0M547 208h0M547.4 172.7h0M547.8 199.1h0M548.2 168.1h0M548.6 233.2h0M549 262h0M549.4 160.3h0M549.8 210h0M550.2 171.7h0M550.6 288.4h0M551 233.7h0M551.4 200.2h0M551.7 239.3h0M552.1 248.5h0M552.5 249.5h0M552.9 231.8h0M553.3 232.7h0M553.7 208.3h0M554.1 223.6h0" stroke-width="5.5"/>
</g>
<path d="M90.5 384v-3M114.5 384v-3M126.5 384v-3M137.5 384v-3M161.5 384v-3M173.5 384v-3M184.5 384v-3M208.5 384v-3M220.5 384v-3M231.5 384v-3M255.5 384v-3M267.5 384v-3M278.5 384v-3M302.5 384v-3M314.5 384v-3M325.5 384v-3M349.5 384v-3M361.5 384v-3M372.5 384v-3M396.5 384v-3M408.5 384v-3M420.5 384v-3M443.5 384v-3M455.5 384v-3M467.5 384v-3M490.5 384v-3M502.5 384v-3M514.5 384v-3M537.5 384v-3M549.5 384v-3M561.5 384v-3M80.5 379.5h3M80.5 348.5h3M80.5 333.5h3M80.5 318.5h3M80.5 287.5h3M80.5 272.5h3M80.5 257.5h3M80.5 226.5h3M80.5 211.5h3M80.5 196.5h3M80.5 165.5h3M80.5 150.5h3M80.5 135.5h3M80.5 104.5h3M80.5 89.5h3M80.5 74.5h3" stroke="#000" stroke-width="0.9" fill="none"/>
<path d="M102.5 384v-5M149.5 384v-5M196.5 384v-5M243.5 384v-5M290.5 384v-5M337.5 384v-5M384.5 384v-5M431.5 384v-5M478.5 384v-5M525.5 384v-5M572.5 384v-5M80.5 364.5h5M80.5 303.5h5M80.5 242.5h5M80.5 180.5h5M80.5 119.5h5M80.5 58.5h5" stroke="#000" stroke-width="2.5" fill="none"/>
<path d="M80.5 58.5H576.5V384.5H80.5Z" stroke="#000" stroke-width="1.11" fill="none" stroke-linejoin="miter"/>
</svg>
<div class="box" style="left:38.35px"></div><div class="cur" style="left:41.199999999999996px"></div>
<div class="box" style="left:191.95px"></div><div class="cur" style="left:194.8px"></div>
<div class="box" style="left:307.15px"></div><div class="cur" style="left:310.0px"></div>
<div class="box" style="left:403.15px"></div><div class="cur" style="left:406.0px"></div>
<div class="box" style="left:511.95px"></div><div class="cur" style="left:514.8px"></div>
<div class="t" style="left:222.0px;top:34.5px;font-size:17.85px;transform:scaleX(1.06);">Магнит Поле 10.12.2024</div>
<div class="t" style="left:46.0px;top:52.0px;font-size:14px;transform:scaleX(1.07);">4.88</div>
<div class="t" style="left:46.0px;top:113.0px;font-size:14px;transform:scaleX(1.07);">4.86</div>
<div class="t" style="left:45.5px;top:174.0px;font-size:14px;transform:scaleX(1.04);">4.84</div>
<div class="t" style="left:46.0px;top:235.0px;font-size:14px;transform:scaleX(1.07);">4.82</div>
<div class="t" style="left:45.5px;top:296.0px;font-size:14px;transform:scaleX(1.04);">4.80</div>
<div class="t" style="left:46.0px;top:357.0px;font-size:14px;transform:scaleX(1.07);">4.78</div>
<div class="t" style="left:8.5px;top:436.0px;font-size:14px;transform:scaleX(1.069);">Last</div>
<div class="t" style="left:125.0px;top:436.0px;font-size:14px;transform:scaleX(1.092);">Mean(10)</div>
<div class="t" style="left:278.0px;top:436.0px;font-size:14px;transform:scaleX(1.037);">Max</div>
<div class="t" style="left:377.5px;top:436.0px;font-size:14px;transform:scaleX(1.062);">Min</div>
<div class="t" style="left:473.5px;top:436.0px;font-size:14px;transform:scaleX(1.075);">Delta</div>
<div class="t" style="left:55.5px;top:436.0px;font-size:14px;transform:scaleX(1.101);">4.83</div>
<div class="t" style="left:210.0px;top:436.0px;font-size:14px;transform:scaleX(1.01);">4.82</div>
<div class="t" style="left:321.0px;top:436.0px;font-size:14px;transform:scaleX(1.037);">4.875</div>
<div class="t" style="left:417.0px;top:436.0px;font-size:14px;transform:scaleX(1.084);">4.778</div>
<div class="t" style="left:525.0px;top:436.0px;font-size:14px;transform:scaleX(1.082);">0.097</div>
<div class="t" style="left:60.5px;top:407.0px;font-size:14px;transform:rotate(-30deg) scaleX(1.09);">00:00</div>
<div class="t" style="left:107.5px;top:407.0px;font-size:14px;transform:rotate(-30deg) scaleX(1.09);">01:00</div>
<div class="t" style="left:154.5px;top:407.0px;font-size:14px;transform:rotate(-30deg) scaleX(1.09);">02:00</div>
<div class="t" style="left:201.6px;top:407.0px;font-size:14px;transform:rotate(-30deg) scaleX(1.09);">03:00</div>
<div class="t" style="left:248.6px;top:407.0px;font-size:14px;transform:rotate(-30deg) scaleX(1.09);">04:00</div>
<div class="t" style="left:295.7px;top:407.0px;font-size:14px;transform:rotate(-30deg) scaleX(1.09);">05:00</div>
<div class="t" style="left:342.7px;top:407.0px;font-size:14px;transform:rotate(-30deg) scaleX(1.09);">06:00</div>
<div class="t" style="left:389.7px;top:407.0px;font-size:14px;transform:rotate(-30deg) scaleX(1.09);">07:00</div>
<div class="t" style="left:436.8px;top:407.0px;font-size:14px;transform:rotate(-30deg) scaleX(1.09);">08:00</div>
<div class="t" style="left:483.8px;top:407.0px;font-size:14px;transform:rotate(-30deg) scaleX(1.09);">09:00</div>
<div class="t" style="left:530.9px;top:407.0px;font-size:14px;transform:rotate(-30deg) scaleX(1.09);">10:00</div>
</body></html>
